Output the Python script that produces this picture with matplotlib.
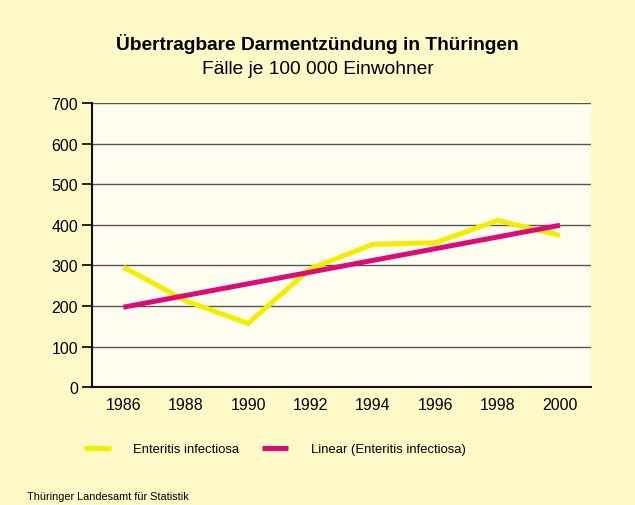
import matplotlib

matplotlib.use("Agg")
import matplotlib.pyplot as plt

plt.rcParams["font.family"] = ["Liberation Sans", "DejaVu Sans"]

YEARS = ["1986", "1988", "1990", "1992", "1994", "1996", "1998", "2000"]
CASES = [296, 213, 157, 292, 352, 356, 411, 374]
# Trendlinie: Anfangs- und Endwert aus der Grafik
TREND_START = 197
TREND_END = 399
Y_TICKS = [0, 100, 200, 300, 400, 500, 600, 700]

BG_OUTER = "#FFF9C8"
BG_INNER = "#FFFDF0"
YELLOW = "#F3EE00"
PINK = "#DD0A78"


def main() -> None:
    fig = plt.figure(figsize=(6.35, 5.06), dpi=100, facecolor=BG_OUTER)
    ax = fig.add_axes([0.145, 0.233, 0.786, 0.561], facecolor=BG_INNER)

    x = list(range(len(YEARS)))
    ax.plot(x, CASES, color=YELLOW, linewidth=3.6, solid_joinstyle="miter",
            solid_capstyle="butt", label="Enteritis infectiosa", zorder=3)
    ax.plot([x[0], x[-1]], [TREND_START, TREND_END], color=PINK, linewidth=3.6,
            solid_capstyle="butt", label="Linear (Enteritis infectiosa)", zorder=4)

    ax.set_xlim(-0.5, len(YEARS) - 0.5)
    ax.set_ylim(0, 700)
    ax.set_xticks(x)
    ax.set_xticklabels(YEARS)
    ax.set_yticks(Y_TICKS)
    ax.tick_params(axis="x", length=0, pad=7, labelsize=11.5)
    ax.tick_params(axis="y", length=7, width=1.2, pad=3, labelsize=11.5, direction="out")

    ax.grid(axis="y", color="#555555", linewidth=1.0)
    ax.set_axisbelow(True)
    for side in ["left", "bottom"]:
        ax.spines[side].set_linewidth(1.5)
        ax.spines[side].set_color("#111111")
    ax.spines["right"].set_visible(False)
    ax.spines["top"].set_visible(False)

    fig.text(0.5, 1 - 50 / 506, "Übertragbare Darmentzündung in Thüringen",
             ha="center", va="baseline", fontsize=13.8, fontweight="bold")
    fig.text(0.5, 1 - 74 / 506, "Fälle je 100 000 Einwohner",
             ha="center", va="baseline", fontsize=13.8)

    fig.legend(loc="center", bbox_to_anchor=(0.433, 1 - 450 / 506), ncol=2,
               frameon=False, fontsize=9.4, handlelength=2.0, handletextpad=1.7,
               columnspacing=1.8)

    fig.text(27 / 635, 1 - 497 / 506, "Thüringer Landesamt für Statistik",
             ha="left", va="center", fontsize=7.8)

    fig.savefig("out.png", dpi=100, facecolor=BG_OUTER)
    plt.close(fig)


if __name__ == "__main__":
    main()
